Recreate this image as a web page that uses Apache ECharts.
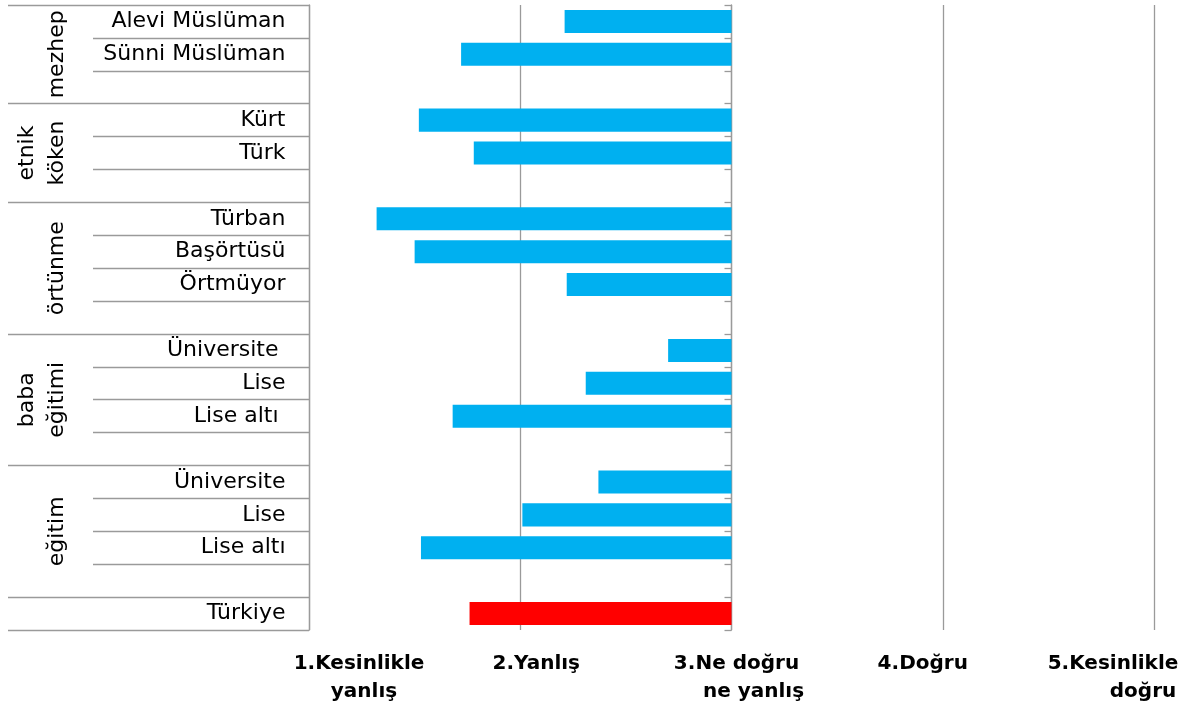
<!DOCTYPE html>
<html><head><meta charset="utf-8">
<script src="https://cdn.jsdelivr.net/npm/echarts@6/dist/echarts.min.js"></script>
<style>html,body{margin:0;padding:0;background:#fff}#c{width:1192px;height:713px}</style>
</head><body><div id="c"></div>
<script>
// ---- data ----
const categories = ['Alevi Müslüman','Sünni Müslüman','','Kürt','Türk','','Türban','Başörtüsü','Örtmüyor','','Üniversite ','Lise','Lise altı ','','Üniversite','Lise','Lise altı','','Türkiye'];
const values = [2.21,1.72,null,1.52,1.78,null,1.32,1.50,2.22,null,2.70,2.31,1.68,null,2.37,2.01,1.53,null,1.76];
const groupNames = ['mezhep','etnik\nköken','örtünme','baba\neğitimi','eğitim',''];
const groupSizes = [3,3,4,4,4,1];
const neutralValue = 3;
const highlightCategory = 'Türkiye';
const xTicks = [1,2,3,4,5];
const xTickLabels = [['1.Kesinlikle','yanlış'],['2.Yanlış'],['3.Ne doğru','ne yanlış'],['4.Doğru'],['5.Kesinlikle','doğru']];

// ---- derived structure ----
const groupBoundaries = [0];
const groupCenters = [];
groupSizes.forEach((s,i)=>{ const st = groupBoundaries[groupBoundaries.length-1]; groupCenters.push(st + s/2); groupBoundaries.push(st+s); });
const rowBoundaries = [];
for (let i=1;i<categories.length;i++) if (groupBoundaries.indexOf(i)<0) rowBoundaries.push(i);

// ---- styles ----
const GL = 309, GR = 38, GT = 5, GB = 83;
const gridW = 1192 - GL - GR;
const lineColor = '#9a9a9a';
const font = 'DejaVu Sans';
const labelShift = [[50,55],[16],[5,22],[-20],[-41,-11]];
const rich = {};
xTickLabels.forEach((lines,i)=>lines.forEach((t,j)=>{
  const dx = labelShift[i][j] || 0;
  rich['t'+i+'_'+j] = {fontSize:20,fontWeight:'bold',fontFamily:font,color:'#000',lineHeight:28,
    padding: dx>=0 ? [0,0,0,2*dx] : [0,-2*dx,0,0]};
}));

const chart = echarts.init(document.getElementById('c'), null, {renderer:'canvas'});
chart.setOption({
  backgroundColor:'#fff',
  animation:false,
  grid:{left:GL,right:GR,top:GT,bottom:GB,containLabel:false,outerBoundsMode:'none'},
  xAxis:{type:'value',min:xTicks[0],max:xTicks[xTicks.length-1],interval:1,
    axisLine:{show:false},axisTick:{show:false},
    splitLine:{show:true,lineStyle:{color:lineColor,width:1.3}},
    axisLabel:{margin:20,rich:rich,formatter:(v)=>{
      const i = xTicks.indexOf(v); if(i<0) return '';
      return xTickLabels[i].map((t,j)=>'{t'+i+'_'+j+'|'+t+'}').join('\n');
    }}},
  yAxis:[
    {type:'category',data:categories,inverse:true,position:'left',
      offset:-gridW*(neutralValue-xTicks[0])/(xTicks[xTicks.length-1]-xTicks[0]),
      axisLine:{show:true,onZero:false,lineStyle:{color:lineColor,width:1.3}},
      axisTick:{show:true,length:7,lineStyle:{color:lineColor,width:1.3}},
      splitLine:{show:false},
      axisLabel:{interval:0,margin:446,fontSize:22,fontFamily:font,color:'#000'}},
    {type:'value',min:0,max:categories.length,inverse:true,position:'left',offset:0,
      axisLine:{show:true,onZero:false,lineStyle:{color:lineColor,width:1.3}},
      axisTick:{show:true,customValues:rowBoundaries,length:216,lineStyle:{color:lineColor,width:1.3}},
      axisLabel:{show:false},splitLine:{show:false}},
    {type:'value',min:0,max:categories.length,inverse:true,position:'left',offset:0,
      axisLine:{show:false,onZero:false},
      axisTick:{show:true,customValues:groupBoundaries,length:301,lineStyle:{color:lineColor,width:1.3}},
      axisLabel:{show:false},splitLine:{show:false}},
    {type:'value',min:0,max:categories.length,inverse:true,position:'left',offset:0,
      axisLine:{show:false,onZero:false},axisTick:{show:false},splitLine:{show:false},
      axisLabel:{show:true,customValues:groupCenters,rotate:90,margin:237,fontSize:22,lineHeight:30,fontFamily:font,color:'#000',
        formatter:(v)=>{const i=groupCenters.indexOf(v);return i<0?'':groupNames[i];}}}
  ],
  series:[
    {type:'bar',stack:'s',yAxisIndex:0,barWidth:'70%',silent:true,
      itemStyle:{color:'rgba(0,0,0,0)'},data:values},
    {type:'bar',stack:'s',yAxisIndex:0,barWidth:'70%',
      itemStyle:{color:(p)=>categories[p.dataIndex]===highlightCategory?'#FF0000':'#00B0F0'},
      data:values.map(v=>v==null?null:neutralValue-v)}
  ]
});
</script></body></html>
